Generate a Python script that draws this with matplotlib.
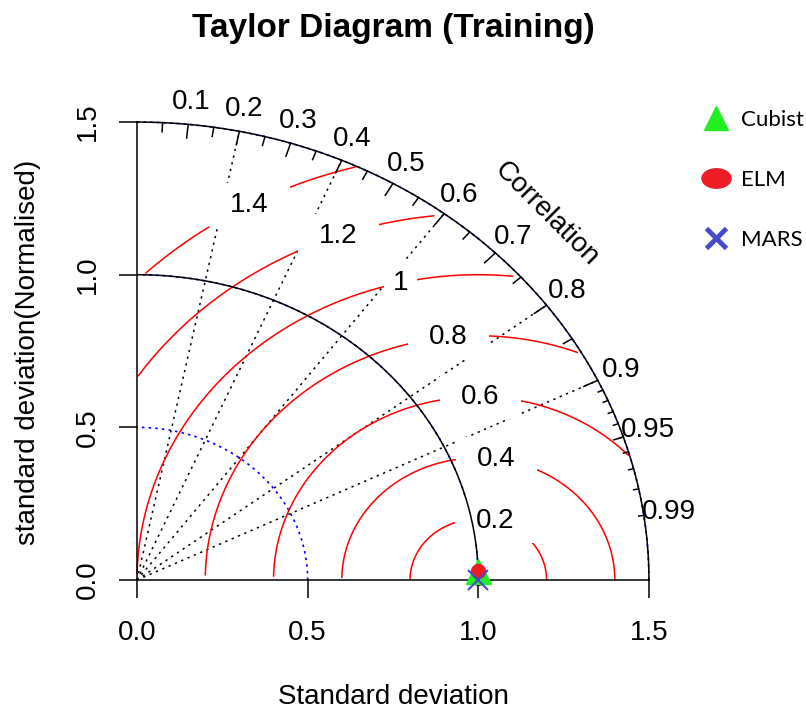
import numpy as np
import matplotlib.pyplot as plt
from matplotlib.lines import Line2D
from matplotlib.patches import Rectangle
from matplotlib.path import Path

plt.rcParams['font.family'] = ['Liberation Sans', 'DejaVu Sans']

# model statistics (normalised standard deviation and correlation)
models = ['Cubist', 'ELM', 'MARS']
model_sd = [1.0, 1.0, 1.0]
model_cor = [0.9996, 0.9996, 1.0]
model_colors = ['#22ee22', '#ee1c24', '#4848cc']

ref_sd = 1.0
max_sd = 1.5
sd_ticks = [0.0, 0.5, 1.0, 1.5]
sd_tick_labels = ['0.0', '0.5', '1.0', '1.5']
gammas = [0.2, 0.4, 0.6, 0.8, 1.0, 1.2, 1.4]
gamma_labels = ['0.2', '0.4', '0.6', '0.8', '1', '1.2', '1.4']
corr_lines = [0.2, 0.4, 0.6, 0.8, 0.9]
corr_labels = [0.1, 0.2, 0.3, 0.4, 0.5, 0.6, 0.7, 0.8, 0.9, 0.95, 0.99]

W, H = 806, 715
fig = plt.figure(figsize=(W / 100, H / 100), dpi=100)

# plot region: origin at pixel (137, 580), x and y scaled differently
x0, y0 = 137, 580
sx, sy = 341.3, 305.3
lim = 1.65
ax = fig.add_axes([x0 / W, (H - y0) / H, lim * sx / W, lim * sy / H])
ax.set_xlim(0, lim)
ax.set_ylim(0, lim)
ax.patch.set_alpha(0)

for s in ['top', 'right']:
    ax.spines[s].set_visible(False)
for s in ['left', 'bottom']:
    ax.spines[s].set_bounds(0, max_sd)
    ax.spines[s].set_linewidth(1.1)
ax.set_xticks(sd_ticks)
ax.set_xticklabels(sd_tick_labels)
ax.set_yticks(sd_ticks)
ax.set_yticklabels(sd_tick_labels, rotation=90, va='center')
ax.tick_params(direction='out', length=13, width=1.1, labelsize=20)
ax.tick_params(axis='x', pad=16)
ax.tick_params(axis='y', pad=13)

# sd arcs (blue dotted)
q = np.arange(0, np.pi / 2 + 0.03, 0.03)
q[-1] = np.pi / 2
for r in sd_ticks[1:]:
    ax.plot(np.cos(q) * r, np.sin(q) * r, color='blue', lw=1.2,
            ls=(0, (1.5, 2.5)), zorder=2, clip_on=False)

# correlation lines (black dotted)
for c in corr_lines:
    ax.plot([0, max_sd * c], [0, max_sd * np.sqrt(1 - c ** 2)], color='black',
            lw=1.1, ls=(0, (1.5, 3)), zorder=2, clip_on=False)

# centred RMS difference arcs with boxed labels
t = np.arange(0, np.pi, 0.03)
label_idx = [44, 48, 52, 56, 60, 64, 69]
gamma_texts = []
for g, lab, li in zip(gammas, gamma_labels, label_idx):
    xc = np.cos(t) * g + ref_sd
    yc = np.sin(t) * g
    outside = np.where(xc ** 2 + yc ** 2 > max_sd ** 2)[0]
    start = outside.max() + 1 if len(outside) else 0
    neg = np.where(xc < 0)[0]
    end = neg.min() if len(neg) else len(t)
    ax.plot(xc[start:end], yc[start:end], color='red', lw=1.1, zorder=2,
            clip_on=False)
    if xc[li] > 0:
        gamma_texts.append(ax.text(xc[li], yc[li], lab, ha='center',
                                   va='center', fontsize=20, zorder=3.1))

# white boxes behind the labels, scaled with the text size
fig.canvas.draw()
renderer = fig.canvas.get_renderer()
inv = ax.transData.inverted()
for txt in gamma_texts:
    bb = txt.get_window_extent(renderer)
    cx, cy = (bb.x0 + bb.x1) / 2, (bb.y0 + bb.y1) / 2
    w, h = bb.width * 2.1, bb.height * 1.7
    (ax0, ay0), (ax1, ay1) = inv.transform([(cx - w / 2, cy - h / 2),
                                            (cx + w / 2, cy + h / 2)])
    ax.add_patch(Rectangle((ax0, ay0), ax1 - ax0, ay1 - ay0,
                           facecolor='white', edgecolor='none', zorder=3))

# outer arc and reference arc
q = np.linspace(0, np.pi / 2, 158)
ax.plot(np.cos(q) * max_sd, np.sin(q) * max_sd, color='black', lw=1.1,
        zorder=4, clip_on=False)
ax.plot(np.cos(q) * ref_sd, np.sin(q) * ref_sd, color='black', lw=1.1,
        zorder=4, clip_on=False)

# correlation ticks
for vals, frac in [(np.arange(0.1, 0.91, 0.1), 0.97),
                   (np.arange(0.05, 0.96, 0.1), 0.98),
                   (np.arange(0.91, 0.995, 0.01), 0.99)]:
    for ang in np.arccos(vals):
        ax.plot([np.cos(ang) * max_sd, np.cos(ang) * max_sd * frac],
                [np.sin(ang) * max_sd, np.sin(ang) * max_sd * frac],
                color='black', lw=1.1, zorder=4, clip_on=False)

for c in corr_labels:
    ang = np.arccos(c)
    ax.text(np.cos(ang) * 1.05 * max_sd, np.sin(ang) * 1.05 * max_sd,
            f'{c:g}', ha='center', va='center', fontsize=20, zorder=5)
ax.text(max_sd * 0.8, max_sd * 0.8, 'Correlation', rotation=-45,
        rotation_mode='anchor', ha='center', va='center', fontsize=20)

# reference point
ax.plot(ref_sd, 0, 'o', mfc='none', mec='black', ms=7, mew=1, zorder=5,
        clip_on=False)

# models
th = np.linspace(0, 2 * np.pi, 60)
ellipse = Path(np.column_stack([1.5 * np.cos(th), np.sin(th)]), closed=True)
plot_markers = [dict(marker='^', ms=18), dict(marker='o', ms=10),
                dict(marker='x', ms=14, mew=1.5)]
for sd, cor, col, mk in zip(model_sd, model_cor, model_colors, plot_markers):
    ax.plot(sd * cor, sd * np.sqrt(1 - cor ** 2), ls='none', color=col,
            zorder=6, clip_on=False, **mk)

legend_markers = [dict(marker='^', ms=17), dict(marker=ellipse, ms=21),
                  dict(marker='x', ms=14, mew=3.5)]
handles = [Line2D([], [], ls='none', color=col, **mk)
           for col, mk in zip(model_colors, legend_markers)]
fig.legend(handles, models, loc='upper left',
           bbox_to_anchor=(679 / W, 1 - 90 / H), frameon=False,
           labelspacing=1.8, handlelength=1.5, handletextpad=0.4,
           prop={'family': 'Lato', 'size': 16})

fig.text(393 / W, 1 - 28 / H, 'Taylor Diagram (Training)', ha='center',
         va='center', fontsize=24, fontweight='bold')
fig.text(393 / W, 1 - 697 / H, 'Standard deviation', ha='center',
         va='center', fontsize=20)
fig.text(28 / W, 1 - 352 / H, 'standard deviation(Normalised)', ha='center',
         va='center', rotation=90, fontsize=20)

fig.savefig('out.png', dpi=100)
